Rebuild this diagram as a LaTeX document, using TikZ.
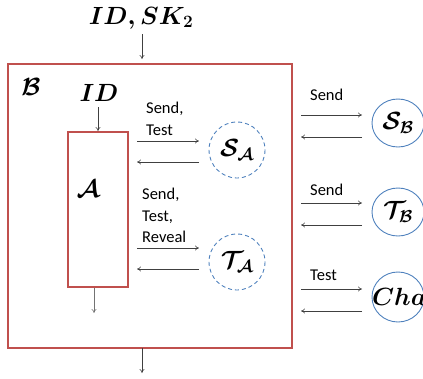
\documentclass[tikz,border=0pt]{standalone}
\usepackage{fontspec}
\newfontfamily\labelfont{Carlito}
\usetikzlibrary{arrows.meta}
\definecolor{boxred}{RGB}{192,80,77}
\definecolor{ringblue}{RGB}{79,129,189}
\tikzset{
  msg/.style={draw=black!75, line width=0.6pt, -{To[length=4pt,width=5pt]}},
  oracle/.style={draw=ringblue, line width=0.9pt},
  simul/.style={draw=ringblue, line width=0.9pt, dash pattern=on 4pt off 3pt},
  qlabel/.style={font=\labelfont\fontsize{16.5}{21.5}\selectfont, align=left, inner sep=0pt, anchor=north west},
  bigmath/.style={font=\fontsize{25}{25}\selectfont\boldmath, inner sep=0pt},
}
\begin{document}
\begin{tikzpicture}[x=1pt,y=-1pt]
\useasboundingbox (0,0) rectangle (423,378);
\begin{scope}
\clip (0,0) rectangle (423,378);

% reduction B and inner adversary A
\draw[boxred, line width=1.2pt] (8,64) rectangle (292,348);
\draw[boxred, line width=1.2pt] (68,132) rectangle (128,287);

\node[bigmath] (inp) at (141,18) {$ID, SK_2$};
\coordinate (inpend) at (142,59);
\draw[msg] (142,34) -- (inpend);

\node[bigmath] (lblB) at (31,87) {$\mathcal{B}$};
\node[bigmath] (idA) at (99,93) {$ID$};
\coordinate (idend) at (98,131);
\draw[msg] (98,107) -- (idend);
\node[bigmath] (lblA) at (88,189) {$\mathcal{A}$};

\coordinate (aout1) at (94,288);
\coordinate (aout2) at (94,313);
\draw[msg, draw=black!55] (aout1) -- (aout2);

\coordinate (bout1) at (142,348);
\coordinate (bout2) at (142,373);
\draw[msg] (bout1) -- (bout2);

% simulated oracles inside B
\draw[simul] (237,150) circle (28);
\node[bigmath] (SA) at (237,150) {$\mathcal{S}_{\mathcal{A}}$};
\draw[simul] (237,262) circle (28);
\node[bigmath] (TA) at (237,262) {$\mathcal{T}_{\mathcal{A}}$};

\coordinate (a1) at (137,141); \coordinate (s1) at (199,141);
\coordinate (a2) at (137,162); \coordinate (s2) at (199,162);
\draw[msg] (a1) -- (s1);
\draw[msg] (s2) -- (a2);
\node[qlabel] (lq1) at (146,102) {Send,\\Test};

\coordinate (a3) at (137,248); \coordinate (t3) at (199,248);
\coordinate (a4) at (137,269); \coordinate (t4) at (199,269);
\draw[msg] (a3) -- (t3);
\draw[msg] (t4) -- (a4);
\node[qlabel] (lq2) at (142,188) {Send,\\Test,\\Reveal};

% real oracles outside B
\draw[oracle] (398,123) ellipse (26 and 24);
\node[bigmath] (SB) at (398,123) {$\mathcal{S}_{\mathcal{B}}$};
\draw[oracle] (398,212) ellipse (26 and 24);
\node[bigmath] (TB) at (398,212) {$\mathcal{T}_{\mathcal{B}}$};
\draw[oracle] (398,297) ellipse (26 and 25);
\node[bigmath, anchor=west] (Ch) at (372,297) {$Cha$};

\coordinate (b1) at (301,115); \coordinate (r1) at (362,115);
\coordinate (b2) at (301,137); \coordinate (r2) at (362,137);
\draw[msg] (b1) -- (r1);
\draw[msg] (r2) -- (b2);
\node[qlabel] (lr1) at (310,89) {Send};

\coordinate (b3) at (301,203); \coordinate (r3) at (362,203);
\coordinate (b4) at (301,225); \coordinate (r4) at (362,225);
\draw[msg] (b3) -- (r3);
\draw[msg] (r4) -- (b4);
\node[qlabel] (lr2) at (310,184) {Send};

\coordinate (b5) at (301,289); \coordinate (r5) at (362,289);
\coordinate (b6) at (301,311); \coordinate (r6) at (362,311);
\draw[msg] (b5) -- (r5);
\draw[msg] (r6) -- (b6);
\node[qlabel] (lr3) at (310,270) {Test};
\end{scope}
\end{tikzpicture}
\end{document}
